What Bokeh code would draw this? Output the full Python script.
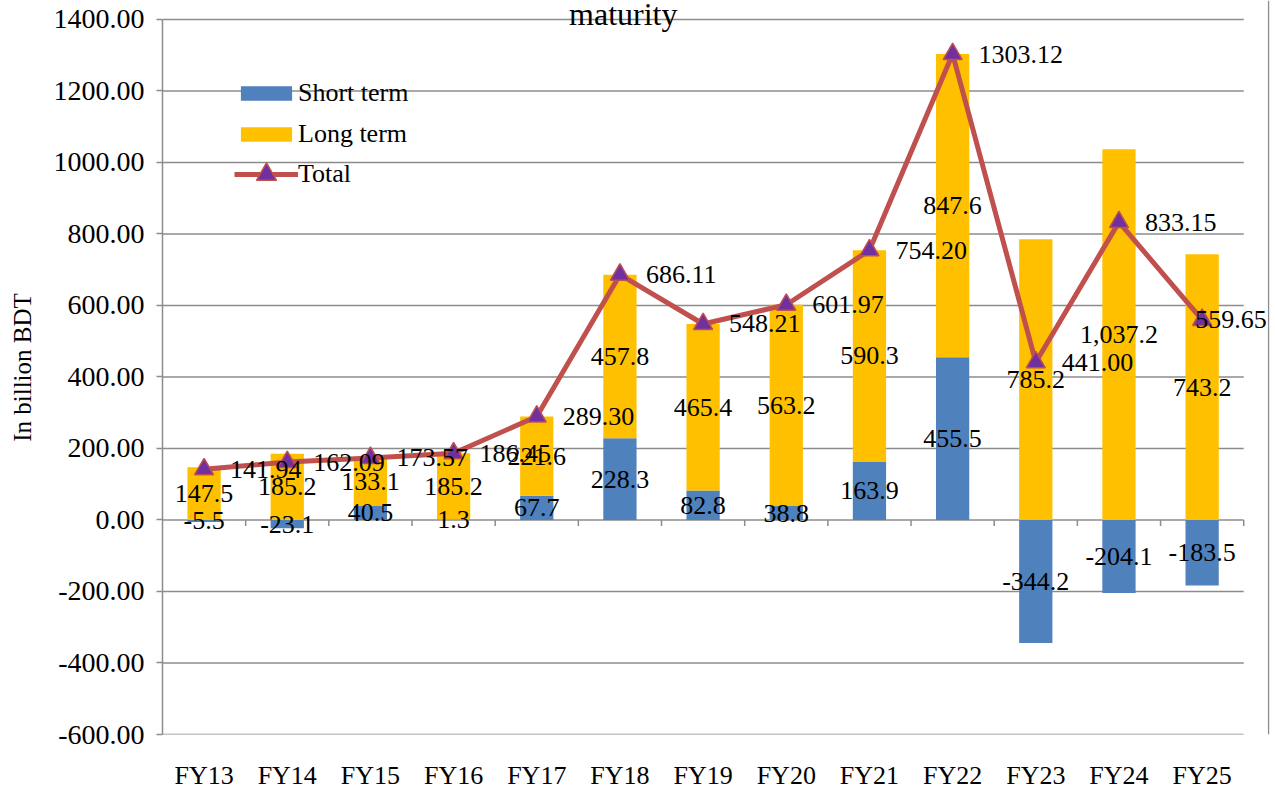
from bokeh.plotting import figure
from bokeh.models import (Range1d, FixedTicker, NumeralTickFormatter, Label,
                          LabelSet, Legend, LegendItem, ColumnDataSource, Span)
from bokeh.core.properties import value
from bokeh.embed import file_html
from bokeh.resources import INLINE

categories = ["FY13", "FY14", "FY15", "FY16", "FY17", "FY18", "FY19",
              "FY20", "FY21", "FY22", "FY23", "FY24", "FY25"]
short_term = [-5.5, -23.1, 40.5, 1.3, 67.7, 228.3, 82.8, 38.8, 163.9,
              455.5, -344.2, -204.1, -183.5]
long_term = [147.5, 185.2, 133.1, 185.2, 221.6, 457.8, 465.4, 563.2,
             590.3, 847.6, 785.2, 1037.2, 743.2]
total = [141.94, 162.09, 173.57, 186.45, 289.30, 686.11, 548.21, 601.97,
         754.20, 1303.12, 441.00, 833.15, 559.65]
y_ticks = [-600, -400, -200, 0, 200, 400, 600, 800, 1000, 1200, 1400]

FONT = "Liberation Serif"
FS = "26px"
BLUE = "#4F81BD"
YELLOW = "#FFC000"
RED = "#C0504D"
PURPLE = "#7030A0"
GRID = "#8C8C8C"

n = len(categories)
xs = [i + 0.5 for i in range(n)]

short_bottom = [min(0, s) for s in short_term]
short_top = [max(0, s) for s in short_term]
long_bottom = [max(0, s) for s in short_term]
long_top = [b + l for b, l in zip(long_bottom, long_term)]

# frame is padded right and top so that labels outside the axes stay visible
X_PAD = 0.31
Y_TOP = 1453
p = figure(frame_width=1107, frame_height=734,
           x_range=Range1d(0, n + X_PAD), y_range=Range1d(-600, Y_TOP),
           output_backend="svg", toolbar_location=None,
           min_border_left=162, min_border_top=0, min_border_right=6,
           min_border_bottom=57)
p.outline_line_color = None
p.background_fill_color = "white"
p.border_fill_color = "white"
p.xgrid.grid_line_color = None
p.ygrid.grid_line_color = None

# horizontal gridlines across the category area only
p.segment(x0=[0] * len(y_ticks), y0=y_ticks, x1=[n] * len(y_ticks),
          y1=y_ticks, line_color=GRID, line_width=1.5)
# chart-area border on the right
p.add_layout(Span(location=n + 0.3, dimension="height", line_color=GRID,
                  line_width=1.5))

# y axis
p.yaxis.ticker = FixedTicker(ticks=y_ticks)
p.yaxis.bounds = (y_ticks[0], y_ticks[-1])
p.yaxis.formatter = NumeralTickFormatter(format="0.00")
p.yaxis.axis_line_color = GRID
p.yaxis.axis_line_width = 1.5
p.yaxis.major_tick_line_color = GRID
p.yaxis.major_tick_line_width = 1.5
p.yaxis.major_tick_out = 6
p.yaxis.major_tick_in = 0
p.yaxis.minor_tick_line_color = None
p.yaxis.major_label_text_font = FONT
p.yaxis.major_label_text_font_size = "28px"
p.yaxis.major_label_text_color = "black"
p.yaxis.major_label_standoff = 12
p.yaxis.axis_label = "In billion BDT"
p.yaxis.axis_label_text_font = FONT
p.yaxis.axis_label_text_font_size = "25px"
p.yaxis.axis_label_text_font_style = "normal"
p.yaxis.axis_label_text_color = "black"
p.yaxis.axis_label_standoff = 15

# x axis
p.xaxis.ticker = FixedTicker(ticks=xs)
p.xaxis.major_label_overrides = {x: c for x, c in zip(xs, categories)}
p.xaxis.axis_line_color = None
p.xaxis.major_tick_line_color = None
p.xaxis.minor_tick_line_color = None
p.xaxis.major_label_text_font = FONT
p.xaxis.major_label_text_font_size = FS
p.xaxis.major_label_text_color = "black"
p.xaxis.major_label_standoff = 20

# category tick marks on the zero line
p.ray(x=list(range(1, n + 1)), y=[0] * n, length=6, length_units="screen",
      angle=-1.5707963, line_color=GRID, line_width=1.5)

r_short = p.vbar(x=xs, width=0.4, bottom=short_bottom, top=short_top,
                 fill_color=BLUE, line_color=None)
r_long = p.vbar(x=xs, width=0.4, bottom=long_bottom, top=long_top,
                fill_color=YELLOW, line_color=None)
r_line = p.line(x=xs, y=total, line_color=RED, line_width=5)
r_mark = p.scatter(x=xs, y=total, marker="triangle", size=19,
                   fill_color=PURPLE, line_color=RED, line_width=1.5)

# bar value labels (centered in segments)
short_mid = [(b + t) / 2 for b, t in zip(short_bottom, short_top)]
long_mid = [(b + t) / 2 for b, t in zip(long_bottom, long_top)]
p.text(x=xs, y=long_mid, text=[f"{v:,.1f}" for v in long_term],
       text_align="center", text_baseline="middle",
       text_font=value(FONT), text_font_size=FS, text_color="black")
p.text(x=xs, y=short_mid, text=[f"{v:,.1f}" for v in short_term],
       text_align="center", text_baseline="middle",
       text_font=value(FONT), text_font_size=FS, text_color="black")

# total labels to the right of the markers
total_src = ColumnDataSource(dict(
    x=xs, y=total, text=[f"{v:.2f}" for v in total],
    dx=[26] * (n - 1) + [-7]))
total_labels = LabelSet(x="x", y="y", text="text", x_offset="dx",
                        source=total_src, text_align="left",
                        text_baseline="middle", text_font=FONT,
                        text_font_size=FS, text_color="black")
p.add_layout(total_labels)

legend_kw = dict(orientation="vertical", padding=0, margin=0,
                 label_standoff=0, label_text_font=FONT,
                 label_text_font_size=FS, label_text_color="black",
                 border_line_color=None, background_fill_alpha=0,
                 glyph_width=64)
legend_bars = Legend(items=[LegendItem(label="Short term", renderers=[r_short]),
                            LegendItem(label="Long term", renderers=[r_long])],
                     location=(72, 585), glyph_height=18, label_height=26,
                     spacing=11, **legend_kw)
legend_total = Legend(items=[LegendItem(label="Total",
                                        renderers=[r_line, r_mark])],
                      location=(72, 535), glyph_height=50, label_height=26,
                      **legend_kw)
p.add_layout(legend_bars, "center")
p.add_layout(legend_total, "center")

# chart title, only its last line visible at the top edge
title = Label(x=5.54, y=1414, text="maturity", text_align="center",
              text_baseline="alphabetic", text_font=FONT,
              text_font_size="32px", text_color="black")
p.add_layout(title)

open("out.html", "w").write(file_html(p, INLINE))
